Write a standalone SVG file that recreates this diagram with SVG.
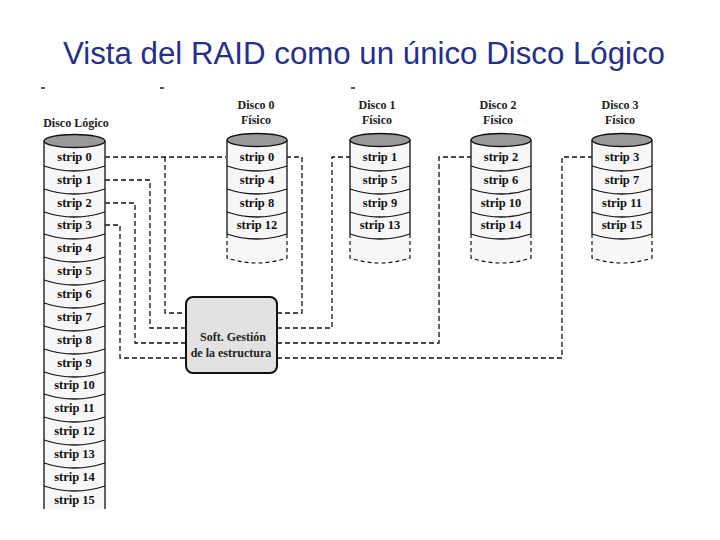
<svg xmlns="http://www.w3.org/2000/svg" width="720" height="540" viewBox="0 0 720 540">
<defs>
<style>
.title{font-family:"Liberation Sans",Arial,sans-serif;font-size:31px;fill:#24308a}
.lbl{font-family:"Liberation Serif","Times New Roman",serif;font-weight:bold;font-size:12px;fill:#222;text-anchor:middle}
.st{font-family:"Liberation Serif","Times New Roman",serif;font-weight:bold;font-size:12.5px;fill:#111;text-anchor:middle}
.body{fill:#f7f7f7;stroke:none}
.side{stroke:#111;stroke-width:1.3;fill:none}
.sep{stroke:#111;stroke-width:1.3;fill:none}
.top{fill:#999;stroke:#111;stroke-width:1.3}
.dsh{stroke:#111;stroke-width:1.2;fill:none;stroke-dasharray:4 3}
.conn{stroke:#111;stroke-width:1.3;fill:none;stroke-dasharray:5 3}
.box{fill:#e2e2e2;stroke:#111;stroke-width:2}
.mk{stroke:#222;stroke-width:1.5}
</style>
</defs>
<rect width="720" height="540" fill="#fff"/>
<text class="title" x="63" y="64" textLength="602" lengthAdjust="spacingAndGlyphs">Vista del RAID como un único Disco Lógico</text>
<line class="mk" x1="41" y1="88" x2="45" y2="88"/>
<line class="mk" x1="160" y1="88" x2="164" y2="88"/>
<line class="mk" x1="351" y1="88" x2="355" y2="88"/>

<g id="connectors">
<path class="conn" d="M105,157 H226"/>
<path class="conn" d="M165,157 V313 H186"/>
<path class="conn" d="M105,180 H150 V328 H186"/>
<path class="conn" d="M105,203 H135 V343 H186"/>
<path class="conn" d="M105,225 H120 V358 H186"/>
<path class="conn" d="M277,313 H302 V157 H287"/>
<path class="conn" d="M277,328 H332 V157 H350"/>
<path class="conn" d="M277,343 H439 V157 H471"/>
<path class="conn" d="M277,358 H562 V157 H592"/>
</g>

<g id="logical">
<text class="lbl" x="76" y="127" font-size="12.5">Disco  Lógico</text>
<rect class="body" x="44" y="141" width="61" height="368"/>
<path class="side" d="M44,141 V509 M105,141 V509"/>
<ellipse class="top" cx="74.5" cy="141" rx="30.5" ry="6.5"/>
<g class="sep">
<path d="M44,166 Q74.5,176 105,166"/>
<path d="M44,189 Q74.5,199 105,189"/>
<path d="M44,212 Q74.5,222 105,212"/>
<path d="M44,234 Q74.5,244 105,234"/>
<path d="M44,257 Q74.5,267 105,257"/>
<path d="M44,280 Q74.5,290 105,280"/>
<path d="M44,303 Q74.5,313 105,303"/>
<path d="M44,326 Q74.5,336 105,326"/>
<path d="M44,349 Q74.5,359 105,349"/>
<path d="M44,372 Q74.5,382 105,372"/>
<path d="M44,394 Q74.5,404 105,394"/>
<path d="M44,417 Q74.5,427 105,417"/>
<path d="M44,440 Q74.5,450 105,440"/>
<path d="M44,463 Q74.5,473 105,463"/>
<path d="M44,486 Q74.5,496 105,486"/>
</g>
<text class="st" x="74.5" y="161">strip 0</text>
<text class="st" x="74.5" y="184">strip 1</text>
<text class="st" x="74.5" y="207">strip 2</text>
<text class="st" x="74.5" y="229">strip 3</text>
<text class="st" x="74.5" y="252">strip 4</text>
<text class="st" x="74.5" y="275">strip 5</text>
<text class="st" x="74.5" y="298">strip 6</text>
<text class="st" x="74.5" y="321">strip 7</text>
<text class="st" x="74.5" y="344">strip 8</text>
<text class="st" x="74.5" y="367">strip 9</text>
<text class="st" x="74.5" y="389">strip 10</text>
<text class="st" x="74.5" y="412">strip 11</text>
<text class="st" x="74.5" y="435">strip 12</text>
<text class="st" x="74.5" y="458">strip 13</text>
<text class="st" x="74.5" y="481">strip 14</text>
<text class="st" x="74.5" y="504">strip 15</text>
</g>

<g id="disk0">
<text class="lbl" x="256" y="109">Disco 0</text>
<text class="lbl" x="256" y="124">Físico</text>
<rect class="body" x="227" y="140" width="60" height="121"/>
<path class="side" d="M227,140 V234 M287,140 V234"/>
<path class="dsh" d="M227,234 V258 Q257,268 287,258 V234"/>
<ellipse class="top" cx="257" cy="140" rx="30" ry="6.5"/>
<path class="sep" d="M227,166 Q257,176 287,166 M227,189 Q257,199 287,189 M227,212 Q257,222 287,212 M227,234 Q257,244 287,234"/>
<text class="st" x="257" y="161">strip 0</text>
<text class="st" x="257" y="184">strip 4</text>
<text class="st" x="257" y="207">strip 8</text>
<text class="st" x="257" y="229">strip 12</text>
</g>

<g id="disk1">
<text class="lbl" x="377" y="109">Disco 1</text>
<text class="lbl" x="377" y="124">Físico</text>
<rect class="body" x="350" y="140" width="60" height="121"/>
<path class="side" d="M350,140 V234 M410,140 V234"/>
<path class="dsh" d="M350,234 V258 Q380,268 410,258 V234"/>
<ellipse class="top" cx="380" cy="140" rx="30" ry="6.5"/>
<path class="sep" d="M350,166 Q380,176 410,166 M350,189 Q380,199 410,189 M350,212 Q380,222 410,212 M350,234 Q380,244 410,234"/>
<text class="st" x="380" y="161">strip 1</text>
<text class="st" x="380" y="184">strip 5</text>
<text class="st" x="380" y="207">strip 9</text>
<text class="st" x="380" y="229">strip 13</text>
</g>

<g id="disk2">
<text class="lbl" x="498" y="109">Disco 2</text>
<text class="lbl" x="498" y="124">Físico</text>
<rect class="body" x="471" y="140" width="60" height="121"/>
<path class="side" d="M471,140 V234 M531,140 V234"/>
<path class="dsh" d="M471,234 V258 Q501,268 531,258 V234"/>
<ellipse class="top" cx="501" cy="140" rx="30" ry="6.5"/>
<path class="sep" d="M471,166 Q501,176 531,166 M471,189 Q501,199 531,189 M471,212 Q501,222 531,212 M471,234 Q501,244 531,234"/>
<text class="st" x="501" y="161">strip 2</text>
<text class="st" x="501" y="184">strip 6</text>
<text class="st" x="501" y="207">strip 10</text>
<text class="st" x="501" y="229">strip 14</text>
</g>

<g id="disk3">
<text class="lbl" x="620" y="109">Disco 3</text>
<text class="lbl" x="620" y="124">Físico</text>
<rect class="body" x="592" y="140" width="60" height="121"/>
<path class="side" d="M592,140 V234 M652,140 V234"/>
<path class="dsh" d="M592,234 V258 Q622,268 652,258 V234"/>
<ellipse class="top" cx="622" cy="140" rx="30" ry="6.5"/>
<path class="sep" d="M592,166 Q622,176 652,166 M592,189 Q622,199 652,189 M592,212 Q622,222 652,212 M592,234 Q622,244 652,234"/>
<text class="st" x="622" y="161">strip 3</text>
<text class="st" x="622" y="184">strip 7</text>
<text class="st" x="622" y="207">strip 11</text>
<text class="st" x="622" y="229">strip 15</text>
</g>

<g id="soft">
<rect class="box" x="186" y="297" width="91" height="76" rx="7"/>
<text class="lbl" x="233" y="341" font-size="11.5">Soft. Gestión</text>
<text class="lbl" x="231" y="357" font-size="11.5">de la estructura</text>
</g>
</svg>
